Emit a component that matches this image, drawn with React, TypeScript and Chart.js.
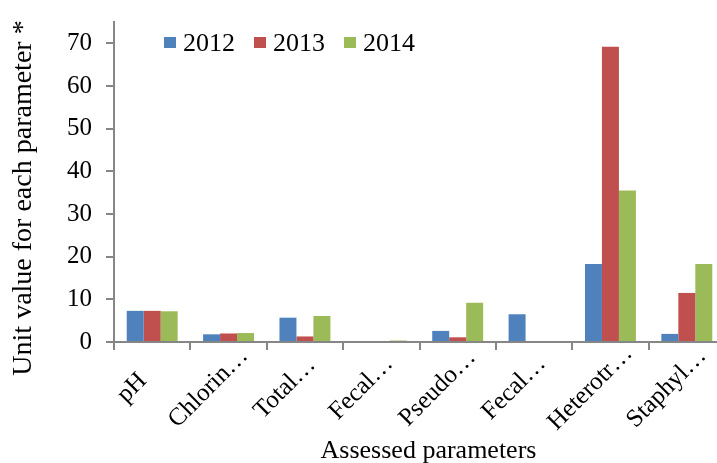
import React, { useEffect, useRef } from "react";
import { Chart, registerables } from "chart.js";

Chart.register(...registerables);

const categories = ["pH", "Chlorin…", "Total…", "Fecal…", "Pseudo…", "Fecal…", "Heterotr…", "Staphyl…"];
const series2012 = [7.3, 1.8, 5.7, 0, 2.6, 6.5, 18.3, 1.9];
const series2013 = [7.3, 2.0, 1.3, 0, 1.1, 0, 69.2, 11.5];
const series2014 = [7.2, 2.1, 6.1, 0.35, 9.2, 0, 35.5, 18.3];
const seriesNames = ["2012", "2013", "2014"];
const yTickValues = [0, 10, 20, 30, 40, 50, 60, 70];
const xTitle = "Assessed parameters";
const yTitle = "Unit value for each parameter *";
const colors = ["#4F81BD", "#C0504D", "#9BBB59"];

const FONT = "'Liberation Serif', 'Times New Roman', serif";
const AXIS_COLOR = "#868686";

const legendPlugin = {
  id: "customLegend",
  afterDraw(chart: any) {
    const ctx = chart.ctx;
    const area = chart.chartArea;
    ctx.save();
    ctx.font = `26px ${FONT}`;
    ctx.textBaseline = "middle";
    let x = area.left + 50;
    const yc = area.top + 21;
    chart.data.datasets.forEach((ds: any) => {
      ctx.fillStyle = ds.backgroundColor;
      ctx.fillRect(x, yc - 6, 12, 11);
      x += 19;
      ctx.fillStyle = "#000";
      ctx.fillText(ds.label, x, yc + 1);
      x += ctx.measureText(ds.label).width + 19;
    });
    ctx.restore();
  },
};

// Excel-style rotated category labels and axis titles
const textPlugin = {
  id: "excelTexts",
  afterDraw(chart: any) {
    const ctx = chart.ctx;
    const xs = chart.scales.x;
    const area = chart.chartArea;
    ctx.save();
    ctx.fillStyle = "#000";
    ctx.font = `25px ${FONT}`;
    ctx.textAlign = "center";
    ctx.textBaseline = "middle";
    (chart.data.labels as string[]).forEach((lab, i) => {
      const px = xs.getPixelForValue(i);
      ctx.save();
      ctx.translate(px - 20, area.bottom + 46);
      ctx.rotate(-Math.PI / 4);
      ctx.fillText(lab, 0, 0);
      ctx.restore();
    });

    // x title
    ctx.font = `26px ${FONT}`;
    ctx.textBaseline = "alphabetic";
    ctx.fillText(xTitle, (area.left + area.right) / 2 + 9, area.bottom + 116);

    // y title
    ctx.save();
    ctx.font = `28px ${FONT}`;
    ctx.textBaseline = "middle";
    ctx.translate(area.left - 90, (area.top + area.bottom) / 2 + 16);
    ctx.rotate(-Math.PI / 2);
    ctx.fillText(yTitle, 0, 0);
    ctx.restore();
    ctx.restore();
  },
};

export default function App() {
  const ref = useRef<HTMLCanvasElement>(null);
  useEffect(() => {
    if (!ref.current) return;
    const data = [series2012, series2013, series2014];
    const chart = new Chart(ref.current, {
      type: "bar",
      data: {
        labels: categories,
        datasets: seriesNames.map((n, i) => ({
          label: n,
          data: data[i],
          backgroundColor: colors[i],
          borderWidth: 0,
          categoryPercentage: 0.667,
          barPercentage: 1,
        })),
      },
      options: {
        responsive: false,
        animation: false,
        layout: { padding: { top: 22, left: 0, right: 0, bottom: 0 } },
        plugins: { legend: { display: false }, tooltip: { enabled: false } },
        scales: {
          x: {
            afterFit: (s: any) => {
              s.height = 121;
              s.paddingLeft = 0;
              s.paddingRight = 0;
            },
            grid: {
              drawOnChartArea: false,
              drawTicks: true,
              tickLength: 8,
              color: AXIS_COLOR,
              lineWidth: 2,
            },
            border: { color: AXIS_COLOR, width: 2 },
            ticks: {
              display: false,
              autoSkip: false,
            },
            title: { display: false },
          },
          y: {
            min: 0,
            max: 75,
            afterFit: (s: any) => {
              s.width = 114;
              s.paddingTop = 0;
              s.paddingBottom = 0;
            },
            afterBuildTicks: (s: any) => {
              s.ticks = yTickValues.map((v) => ({ value: v }));
            },
            grid: {
              drawOnChartArea: false,
              drawTicks: true,
              tickLength: 8,
              color: AXIS_COLOR,
              lineWidth: 2,
            },
            border: { color: AXIS_COLOR, width: 2 },
            ticks: {
              stepSize: 10,
              color: "#000",
              padding: 14,
              font: { family: FONT, size: 25 },
            },
            title: { display: false },
          },
        },
      },
      plugins: [legendPlugin, textPlugin],
    });
    return () => chart.destroy();
  }, []);

  return (
    <div
      style={{
        position: "fixed",
        left: 0,
        top: 0,
        width: 717,
        height: 463,
        overflow: "hidden",
        background: "#fff",
      }}
    >
      <canvas ref={ref} width={725} height={463} style={{ display: "block", width: 725, height: 463 }} />
    </div>
  );
}
